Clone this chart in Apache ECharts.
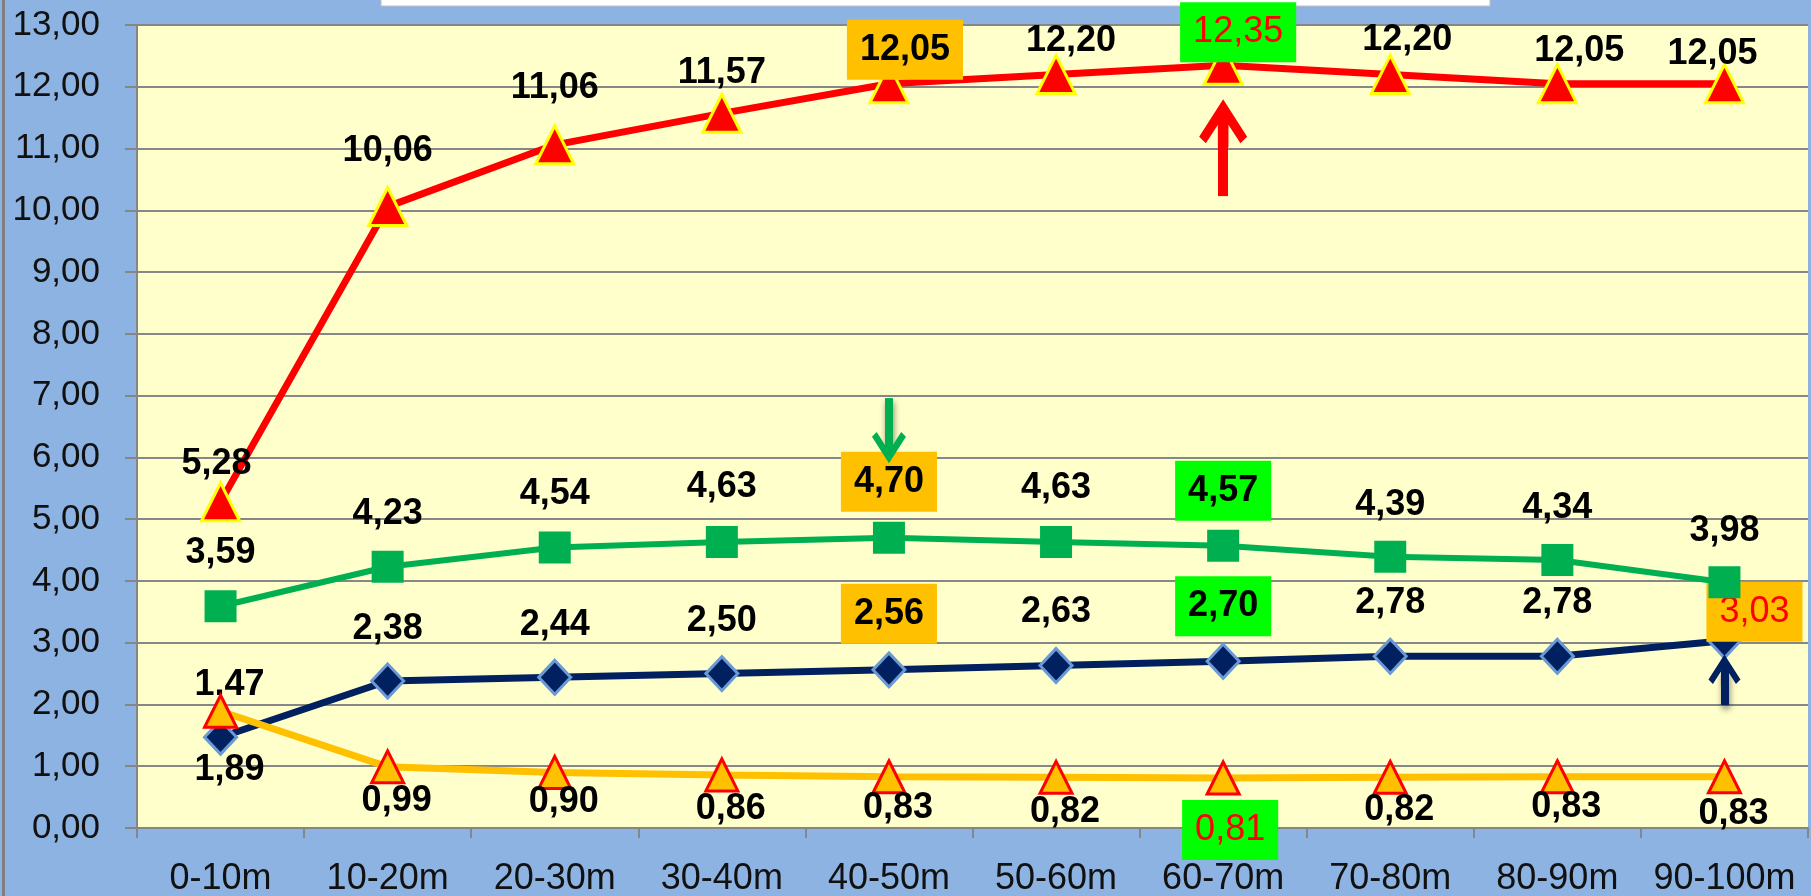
<!DOCTYPE html>
<html>
<head>
<meta charset="utf-8">
<style>
html, body { margin: 0; padding: 0; background: #8DB3E2; }
#main { width: 1811px; height: 896px; }
</style>
<script src="https://cdn.jsdelivr.net/npm/echarts@6/dist/echarts.min.js"></script>
</head>
<body>
<div id="main"></div>
<script>
// categories and values
var categories = ['0-10m', '10-20m', '20-30m', '30-40m', '40-50m', '50-60m', '60-70m', '70-80m', '80-90m', '90-100m'];
var redValues = [5.28, 10.06, 11.06, 11.57, 12.05, 12.20, 12.35, 12.20, 12.05, 12.05];
var greenValues = [3.59, 4.23, 4.54, 4.63, 4.70, 4.63, 4.57, 4.39, 4.34, 3.98];
var navyValues = [1.47, 2.38, 2.44, 2.50, 2.56, 2.63, 2.70, 2.78, 2.78, 3.03];
var yellowValues = [1.89, 0.99, 0.90, 0.86, 0.83, 0.82, 0.81, 0.82, 0.83, 0.83];

// arrow annotations: category, start value, end value (arrow head centre)
var redArrow = ['60-70m', 10.23, 11.41];
var greenArrow = ['40-50m', 6.96, 6.18];
var navyArrow = ['90-100m', 1.99, 2.55];

// label offsets (px) relative to each point
var redOffsets = [[-4, -38], [0, -56], [0, -57], [0, -40], [16, -34], [15, -33], [15, -33], [17, -34], [22, -33], [-12, -30]];
var greenOffsets = [[0, -53], [0, -53], [0, -53], [0, -55], [0, -56], [0, -54], [0, -55], [0, -52], [0, -52], [0, -51]];
var navyOffsets = [[9, -52], [0, -52], [0, -52], [0, -52], [0, -56], [0, -53], [0, -55], [0, -53], [0, -53], [30, -29]];
var yellowOffsets = [[9, 59], [9, 34], [9, 30], [9, 34], [9, 31], [9, 35], [7, 52], [9, 33], [9, 30], [9, 37]];

var FONT = "'Liberation Sans', Arial, sans-serif";
var orangeBox = { backgroundColor: '#FFC000' };
var greenBox = { backgroundColor: '#00FF00' };
var redText = { color: '#FF0000', fontWeight: 'normal' };

// highlighted labels per series
var redMarks = { 4: orangeBox, 6: Object.assign({}, greenBox, redText) };
var greenMarks = { 4: orangeBox, 6: greenBox };
var navyMarks = { 4: orangeBox, 6: greenBox, 9: Object.assign({}, orangeBox, redText) };
var yellowMarks = { 6: Object.assign({}, greenBox, redText) };

function fmt(v) {
    return Number(v).toFixed(2).replace('.', ',');
}

function buildData(values, offsets, marks) {
    return values.map(function (v, i) {
        var lab = { offset: offsets[i] };
        if (marks[i]) Object.assign(lab, marks[i]);
        return { value: v, label: lab };
    });
}

// open chevron arrow head, tip at top
var chevron = 'path://M50,0 L100,78 L86,92 L61,53 L61,100 L39,100 L39,53 L14,92 L0,78 Z';

function arrowLine(a, color, width, head, shadow) {
    var ls = { color: color, width: width, type: 'solid', cap: 'butt', opacity: 1 };
    if (shadow) {
        ls.shadowBlur = 6;
        ls.shadowColor = 'rgba(0,0,0,0.45)';
        ls.shadowOffsetY = 4;
        ls.shadowOffsetX = 1;
    }
    return {
        silent: true,
        animation: false,
        symbol: ['none', chevron],
        symbolSize: head,
        label: { show: false },
        emphasis: { disabled: true },
        lineStyle: ls,
        data: [[{ coord: [a[0], a[1]] }, { coord: [a[0], a[2]] }]]
    };
}

var labelBase = {
    show: true,
    position: 'inside',
    fontFamily: FONT,
    fontSize: 36,
    fontWeight: 'bold',
    color: '#000000',
    lineHeight: 40,
    padding: [10, 13],
    formatter: function (p) { return fmt(p.value); }
};

var dom = document.getElementById('main');
var myChart = echarts.init(dom, null, { renderer: 'canvas' });

var option = {
    backgroundColor: '#8DB3E2',
    animation: false,
    textStyle: { fontFamily: FONT },
    graphic: [
        {
            type: 'rect',
            shape: { x: 381, y: -3, width: 1109, height: 9 },
            style: { fill: '#FFFFFF', stroke: '#C0C0C0', lineWidth: 1 },
            silent: true
        },
        {
            type: 'rect',
            shape: { x: 2, y: 0, width: 3, height: 896 },
            style: { fill: '#7F7F7F' },
            silent: true
        }
    ],
    grid: {
        left: 137,
        top: 25,
        width: 1671,
        height: 803,
        show: true,
        backgroundColor: '#FFFFCC',
        borderWidth: 0,
        containLabel: false,
        outerBoundsMode: 'none'
    },
    xAxis: {
        type: 'category',
        data: categories,
        boundaryGap: true,
        axisLine: { show: true, lineStyle: { color: '#868686', width: 2 } },
        axisTick: { show: true, alignWithLabel: false, length: 10, lineStyle: { color: '#868686', width: 2 } },
        axisLabel: { interval: 0, margin: 33, fontSize: 36, color: '#111111', fontFamily: FONT },
        splitLine: { show: false }
    },
    yAxis: {
        type: 'value',
        min: 0,
        max: 13,
        interval: 1,
        axisLine: { show: true, lineStyle: { color: '#868686', width: 2 } },
        axisTick: { show: true, inside: false, length: 12, lineStyle: { color: '#868686', width: 2 } },
        axisLabel: { margin: 37, fontSize: 35, color: '#111111', fontFamily: FONT, formatter: fmt },
        splitLine: { show: true, lineStyle: { color: '#878787', width: 2 } }
    },
    series: [
        {
            name: 'navy',
            type: 'line',
            data: buildData(navyValues, navyOffsets, navyMarks),
            symbol: 'diamond',
            symbolSize: [32, 34],
            lineStyle: { color: '#002060', width: 7 },
            itemStyle: { color: '#002060', borderColor: '#6A9AD6', borderWidth: 3 },
            label: labelBase,
            emphasis: { disabled: true },
            markLine: arrowLine(navyArrow, '#002060', 8, 32, true),
            z: 2
        },
        {
            name: 'yellow',
            type: 'line',
            data: buildData(yellowValues, yellowOffsets, yellowMarks),
            symbol: 'triangle',
            symbolSize: 32,
            lineStyle: { color: '#FFC000', width: 7 },
            itemStyle: { color: '#FFC000', borderColor: '#FF0000', borderWidth: 3 },
            label: labelBase,
            emphasis: { disabled: true },
            z: 3
        },
        {
            name: 'green',
            type: 'line',
            data: buildData(greenValues, greenOffsets, greenMarks),
            symbol: 'rect',
            symbolSize: 32,
            lineStyle: { color: '#00B050', width: 6 },
            itemStyle: { color: '#00B050', borderWidth: 0 },
            label: labelBase,
            emphasis: { disabled: true },
            markLine: arrowLine(greenArrow, '#00B050', 8, 34, true),
            z: 4
        },
        {
            name: 'red',
            type: 'line',
            data: buildData(redValues, redOffsets, redMarks),
            symbol: 'triangle',
            symbolSize: 38,
            lineStyle: { color: '#FF0000', width: 7 },
            itemStyle: { color: '#FF0000', borderColor: '#FFFF00', borderWidth: 3 },
            label: labelBase,
            emphasis: { disabled: true },
            markLine: arrowLine(redArrow, '#FF0000', 10, 48, false),
            z: 5
        }
    ]
};

myChart.setOption(option);
window.addEventListener('resize', myChart.resize);
</script>
</body>
</html>
